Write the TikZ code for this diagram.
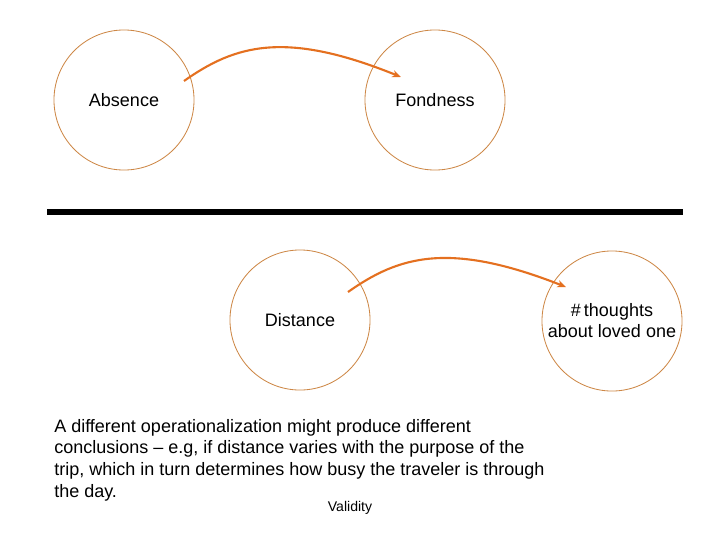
\documentclass[tikz,border=0pt]{standalone}
\usepackage{fontspec}
\setmainfont{Liberation Sans}
\usetikzlibrary{arrows.meta}
\usetikzlibrary{positioning}
\definecolor{ringcol}{RGB}{205,135,70}
\definecolor{arrowcol}{RGB}{228,112,32}
\tikzset{
    concept/.style={
        circle,
        draw=ringcol,
        line width=0.6pt,
        minimum size=3.5cm,
        inner sep=0pt,
        align=center,
        font=\fontsize{12.8}{15}\selectfont
    },
    link/.style={
        draw=arrowcol,
        line width=1.5pt,
        -{Stealth[length=2.2mm,width=1.8mm]}
    }
}

\begin{document}
\begin{tikzpicture}
[
    x=0.025cm,
    y=-0.025cm,
]
\useasboundingbox (0,0) rectangle (720,540);
\node[concept] (absence) at (124,100) {Absence};
\node[concept] (fondness) at (435,100) {Fondness};
\node[concept] (distance) at (300,320) {Distance};
\node[concept] (thoughts) at (612,321) {\#\,thoughts\\about loved one};
\coordinate (topfrom) at (184,81);
\coordinate (topto) at (401,77);
\coordinate (lowfrom) at (348,292);
\coordinate (lowto) at (566,287);
\draw[link] (topfrom) .. controls (235,45) and (285,30) .. (topto);
\draw[link] (lowfrom) .. controls (399,256) and (449,241) .. (lowto);
% divider
\coordinate (divleft) at (47,212);
\coordinate (divright) at (683,212);
\draw[line width=3.6pt] (divleft) -- (divright);
\node[anchor=base west, align=left, inner sep=0pt,
      font=\fontsize{12.8}{15.3}\selectfont] (remark) at (54,497)
    {A different operationalization might produce different\\
     conclusions -- e.g, if distance varies with the purpose of the\\
     trip, which in turn determines how busy the traveler is through\\
     the day.};
\node[font=\fontsize{10}{12}\selectfont, inner sep=0pt] (validity) at (350,508) {Validity};
\end{tikzpicture}
\end{document}
